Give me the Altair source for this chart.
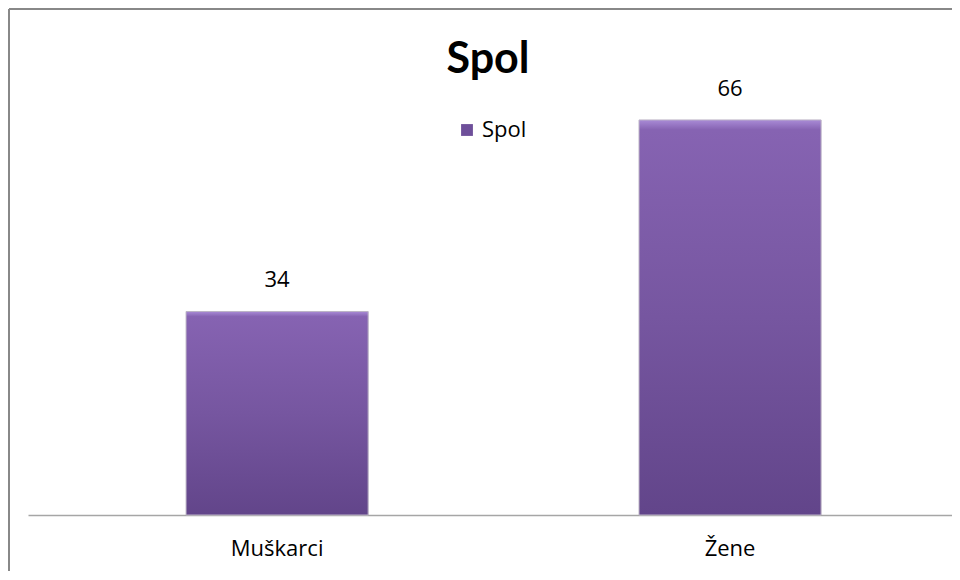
import altair as alt
import pandas as pd

categories = ["Muškarci", "Žene"]
values = [34, 66]
series = "Spol"
title_text = "Spol"

df = pd.DataFrame({"kategorija": categories, "vrijednost": values, "serija": [series] * len(categories)})

FONT = "Open Sans"
W, H = 924, 419

x_enc = alt.X(
    "kategorija:N",
    sort=categories,
    scale=alt.Scale(paddingInner=0.598, paddingOuter=0.319, align=0.547),
    axis=alt.Axis(
        title=None, labelAngle=0, ticks=False, domainColor="#A6A6A6", domainWidth=1.5,
        labelFont=FONT, labelFontSize=22, labelColor="#000000", labelPadding=23,
        labelBaseline="top",
    ),
)
y_enc = alt.Y("vrijednost:Q", scale=alt.Scale(domain=[0, 70]), axis=None)

base = alt.Chart(df)

legend_bars = base.mark_bar().encode(
    x=x_enc, y=y_enc,
    color=alt.Color(
        "serija:N",
        scale=alt.Scale(range=["#6E4F9A"]),
        legend=alt.Legend(
            title=None, orient="none", legendX=428, legendY=23,
            symbolType="square", symbolSize=140, symbolStrokeWidth=0,
            labelFont=FONT, labelFontSize=22, labelColor="#000000", labelOffset=4,
        ),
    ),
)

gradient = {
    "gradient": "linear", "x1": 0, "y1": 0, "x2": 0, "y2": 1,
    "stops": [
        {"offset": 0.0, "color": "#A98BD6"},
        {"offset": 0.025, "color": "#8663B2"},
        {"offset": 0.5, "color": "#7656A0"},
        {"offset": 1.0, "color": "#62458A"},
    ],
}

grad_bars = base.mark_bar(stroke="#BDB5C6", strokeWidth=1).encode(
    x=x_enc, y=y_enc, fill=alt.value(gradient)
)

labels = base.mark_text(baseline="bottom", dy=-19, font=FONT, fontSize=22, color="#000000").encode(
    x=x_enc, y=y_enc, text="vrijednost:Q"
)

title_mark = alt.Chart(pd.DataFrame({"t": [title_text]})).mark_text(
    font="Lato", fontSize=43, fontWeight="bold", color="#000000",
    align="center", baseline="alphabetic", clip=False,
).encode(text="t:N", x=alt.value(W / 2 - 2), y=alt.value(-23))

border_left = alt.Chart(pd.DataFrame({"a": [0]})).mark_rule(color="#888888", strokeWidth=2, clip=False).encode(
    x=alt.value(-19), y=alt.value(-87), y2=alt.value(H + 80)
)
border_top = alt.Chart(pd.DataFrame({"a": [0]})).mark_rule(color="#888888", strokeWidth=2, clip=False).encode(
    x=alt.value(-19), x2=alt.value(W + 20), y=alt.value(-87)
)

chart = alt.layer(legend_bars, grad_bars, labels, title_mark, border_left, border_top).properties(
    width=W,
    height=H,
    background="#FFFFFF",
    autosize=alt.AutoSizeParams(type="none"),
    padding={"left": 20, "top": 88, "right": 0, "bottom": 56},
).configure_view(strokeWidth=0, stroke=None)

chart.save("out.html", embed_options={"renderer": "svg", "actions": False})
